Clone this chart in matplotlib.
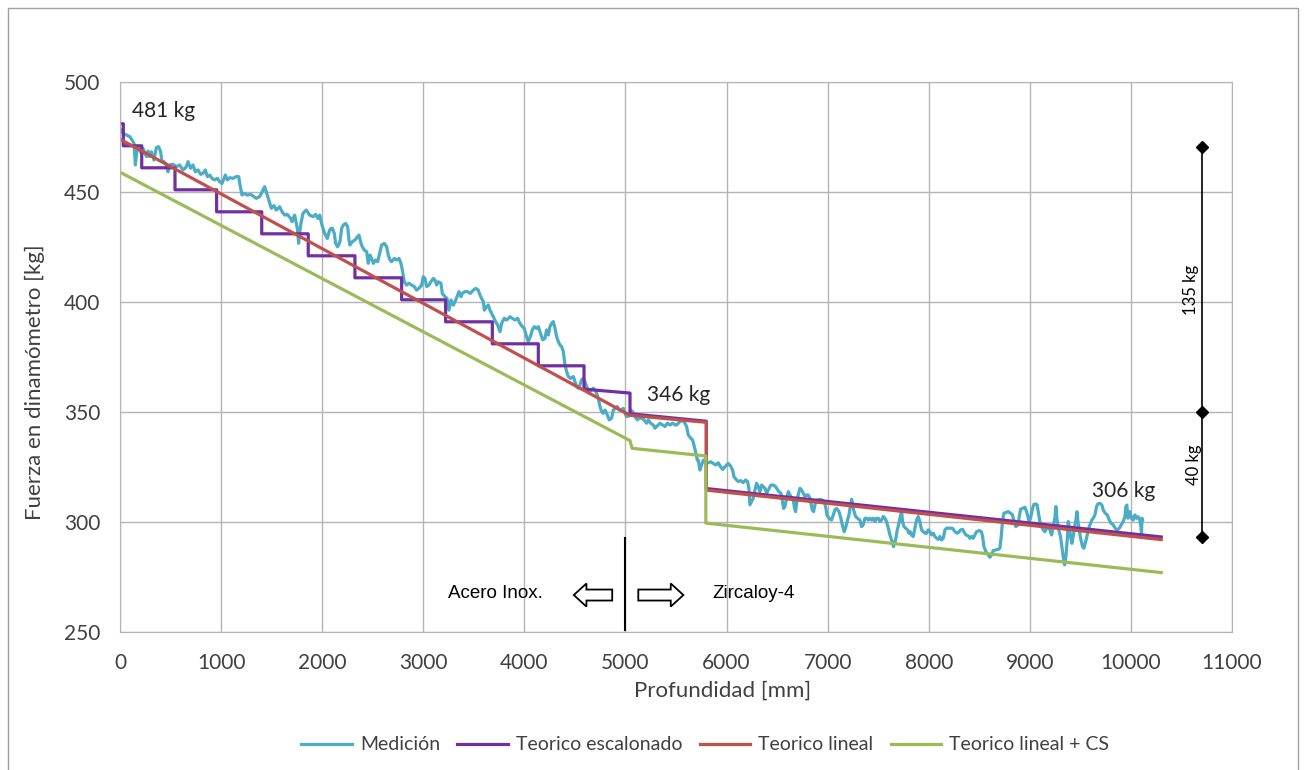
import numpy as np
import matplotlib
matplotlib.use('Agg')
import matplotlib.pyplot as plt
from matplotlib.patches import FancyArrow, Rectangle

plt.rcParams['font.family'] = ['Lato', 'DejaVu Sans']

# medición del dinamómetro: profundidad [mm] / fuerza [kg]
med_x = [0, 30, 63, 96, 119, 139, 152, 165, 185, 211, 228, 244, 264, 277, 293, 310, 336, 359, 382, 402,
         415, 435, 458, 475, 491, 524, 557, 590, 623, 656, 673, 699, 722, 745, 772, 798, 821, 844, 864, 887,
         910, 936, 963, 986, 1009, 1029, 1042, 1062, 1085, 1118, 1151, 1174, 1187, 1207, 1226, 1259, 1292, 1325, 1348, 1381,
         1414, 1431, 1451, 1470, 1497, 1523, 1546, 1579, 1602, 1629, 1655, 1688, 1701, 1727, 1754, 1767, 1787, 1810, 1843, 1876,
         1909, 1935, 1958, 1975, 1998, 2024, 2051, 2074, 2090, 2100, 2120, 2133, 2153, 2176, 2193, 2209, 2232, 2252, 2265, 2275,
         2298, 2324, 2351, 2364, 2384, 2397, 2417, 2440, 2456, 2473, 2489, 2506, 2529, 2549, 2572, 2588, 2615, 2638, 2654, 2671,
         2687, 2713, 2737, 2760, 2779, 2793, 2812, 2835, 2859, 2885, 2911, 2934, 2957, 2984, 3000, 3017, 3033, 3056, 3076, 3099,
         3116, 3132, 3149, 3175, 3188, 3215, 3234, 3254, 3274, 3297, 3314, 3333, 3353, 3373, 3386, 3412, 3439, 3465, 3495, 3518,
         3544, 3561, 3577, 3594, 3604, 3627, 3643, 3660, 3693, 3716, 3736, 3759, 3775, 3801, 3825, 3858, 3881, 3907, 3933, 3956,
         3980, 3999, 4022, 4039, 4065, 4078, 4098, 4121, 4138, 4181, 4204, 4220, 4237, 4253, 4270, 4286, 4303, 4319, 4336, 4352,
         4369, 4385, 4402, 4418, 4435, 4458, 4484, 4500, 4517, 4533, 4550, 4566, 4583, 4599, 4616, 4632, 4649, 4682, 4698, 4715,
         4731, 4748, 4764, 4781, 4797, 4814, 4840, 4863, 4880, 4899, 4919, 4939, 4962, 4978, 4995, 5011, 5038, 5051, 5071, 5094,
         5117, 5137, 5160, 5183, 5209, 5226, 5249, 5275, 5292, 5308, 5325, 5341, 5368, 5391, 5414, 5440, 5466, 5490, 5506, 5539,
         5565, 5588, 5605, 5621, 5645, 5664, 5681, 5697, 5710, 5720, 5737, 5753, 5770, 5796, 5819, 5842, 5869, 5895, 5918, 5941,
         5961, 5984, 6001, 6017, 6040, 6060, 6073, 6099, 6116, 6142, 6165, 6189, 6208, 6221, 6231, 6248, 6264, 6281, 6297, 6314,
         6330, 6347, 6363, 6380, 6396, 6413, 6439, 6462, 6485, 6505, 6518, 6538, 6551, 6564, 6578, 6594, 6611, 6627, 6644, 6660,
         6670, 6683, 6696, 6709, 6726, 6742, 6759, 6775, 6792, 6808, 6825, 6835, 6848, 6861, 6874, 6891, 6907, 6924, 6947, 6967,
         6980, 6993, 7013, 7039, 7056, 7072, 7089, 7112, 7131, 7145, 7164, 7181, 7197, 7211, 7224, 7237, 7247, 7257, 7276, 7296,
         7319, 7336, 7352, 7369, 7385, 7402, 7418, 7435, 7451, 7468, 7484, 7501, 7517, 7534, 7550, 7567, 7583, 7600, 7616, 7633,
         7652, 7672, 7689, 7705, 7722, 7732, 7741, 7755, 7771, 7791, 7804, 7817, 7830, 7847, 7863, 7880, 7896, 7913, 7929, 7946,
         7962, 7979, 7995, 8012, 8028, 8045, 8061, 8078, 8094, 8111, 8127, 8144, 8160, 8177, 8210, 8236, 8259, 8282, 8302, 8315,
         8335, 8348, 8368, 8391, 8407, 8424, 8440, 8457, 8473, 8500, 8520, 8533, 8546, 8566, 8589, 8605, 8622, 8638, 8665, 8688,
         8704, 8717, 8731, 8744, 8763, 8787, 8810, 8829, 8843, 8862, 8885, 8895, 8909, 8928, 8951, 8968, 8981, 8994, 9007, 9027,
         9040, 9060, 9073, 9083, 9100, 9116, 9133, 9149, 9166, 9182, 9199, 9215, 9232, 9248, 9258, 9268, 9278, 9291, 9304, 9317,
         9330, 9344, 9357, 9370, 9380, 9390, 9403, 9416, 9429, 9443, 9456, 9466, 9476, 9489, 9502, 9522, 9535, 9548, 9561, 9575,
         9588, 9601, 9614, 9627, 9644, 9660, 9673, 9693, 9713, 9726, 9746, 9766, 9786, 9805, 9825, 9845, 9865, 9884, 9904, 9924,
         9941, 9950, 9960, 9970, 9980, 9990, 10006, 10023, 10039, 10056, 10072, 10089, 10099, 10105, 10109, 10115]
med_y = [478.9, 476.7, 475.9, 475.2, 473.6, 472.1, 462.3, 468.3, 469.8, 467.6, 469.8, 467.6, 466.1, 468.6, 466.1, 468.3, 464.5, 470.2, 470.6, 468.3,
         464.1, 463.8, 462.6, 459.2, 462.3, 462.6, 461.5, 462.3, 460.0, 461.5, 463.8, 460.8, 462.3, 459.2, 460.0, 458.0, 458.5, 460.0, 457.0, 457.7,
         456.2, 455.5, 456.2, 454.7, 453.9, 456.2, 457.7, 455.5, 456.5, 456.2, 457.0, 457.0, 453.2, 448.6, 449.4, 448.6, 448.9, 447.9, 447.1, 447.9,
         450.9, 452.4, 449.4, 446.4, 442.6, 443.8, 441.8, 443.3, 441.1, 439.5, 439.8, 438.0, 436.5, 439.5, 433.5, 426.7, 435.0, 440.3, 441.8, 439.5,
         438.8, 439.8, 438.0, 439.5, 435.0, 431.2, 428.9, 432.7, 433.5, 433.5, 431.2, 426.6, 425.1, 427.4, 433.5, 435.0, 435.7, 434.2, 428.2, 425.9,
         427.4, 428.2, 429.7, 430.4, 426.6, 425.1, 423.6, 422.9, 417.6, 421.3, 419.8, 417.6, 419.1, 418.3, 422.9, 425.9, 426.6, 425.1, 421.3, 419.1,
         418.3, 419.8, 419.1, 419.8, 417.6, 414.5, 409.2, 407.7, 408.5, 407.7, 407.0, 405.4, 406.2, 407.7, 411.5, 410.7, 407.0, 407.7, 409.2, 410.7,
         410.0, 407.7, 409.2, 408.5, 403.9, 402.4, 401.7, 396.3, 400.9, 398.6, 400.1, 402.4, 404.7, 402.4, 403.9, 404.7, 404.7, 403.9, 405.4, 406.2,
         405.4, 403.2, 401.6, 400.1, 396.3, 397.9, 398.6, 396.3, 393.3, 391.0, 389.5, 386.5, 390.3, 392.6, 391.8, 393.3, 392.6, 391.8, 392.6, 390.3,
         388.8, 388.0, 384.2, 381.9, 385.0, 387.3, 388.8, 388.0, 388.8, 382.8, 383.5, 387.3, 385.0, 388.8, 390.3, 391.1, 388.1, 384.3, 382.0, 380.5,
         379.7, 377.5, 371.4, 368.4, 366.1, 365.3, 366.1, 363.8, 361.5, 360.8, 362.3, 364.6, 365.3, 363.8, 361.5, 360.0, 359.3, 360.8, 360.0, 358.5,
         356.2, 352.5, 350.2, 349.4, 350.9, 349.4, 346.4, 347.2, 350.9, 351.7, 352.5, 350.9, 350.9, 351.7, 349.4, 347.9, 348.2, 350.9, 350.2, 347.9,
         346.4, 347.2, 347.2, 346.4, 344.9, 346.4, 344.9, 344.1, 342.6, 343.4, 344.1, 344.9, 344.1, 343.4, 344.9, 344.1, 344.9, 344.1, 344.1, 345.6,
         346.4, 344.9, 343.4, 339.6, 338.1, 337.3, 334.3, 331.2, 328.2, 328.1, 323.6, 325.9, 328.1, 326.6, 326.9, 327.4, 326.6, 325.9, 326.9, 325.1,
         323.9, 325.1, 325.9, 326.6, 325.4, 323.6, 320.6, 319.1, 318.4, 318.8, 317.9, 319.1, 318.4, 315.3, 307.8, 309.3, 310.8, 314.6, 317.6, 316.1,
         313.8, 316.8, 316.1, 315.3, 313.1, 314.6, 316.8, 316.8, 316.1, 314.6, 313.8, 313.1, 310.0, 306.2, 307.0, 310.8, 313.8, 312.3, 310.8, 310.0,
         307.0, 304.7, 309.3, 312.3, 315.3, 314.6, 313.1, 311.5, 312.3, 312.3, 310.8, 308.5, 305.5, 304.7, 307.8, 310.0, 310.0, 310.3, 310.0, 309.3,
         307.0, 303.2, 301.7, 300.9, 303.2, 305.5, 306.2, 304.7, 301.7, 298.7, 295.6, 297.9, 300.9, 303.2, 307.0, 310.3, 308.5, 305.5, 302.5, 301.7,
         300.9, 297.9, 298.7, 301.7, 301.7, 300.9, 301.7, 300.9, 301.7, 300.2, 301.7, 301.7, 300.2, 300.9, 302.5, 301.7, 300.2, 297.2, 294.1, 291.8,
         288.8, 291.8, 296.4, 299.4, 303.2, 304.7, 300.2, 297.9, 297.2, 296.4, 294.9, 295.6, 294.1, 293.4, 297.2, 300.9, 302.5, 300.2, 296.4, 295.6,
         294.9, 294.9, 296.4, 295.6, 294.1, 294.9, 293.4, 292.6, 292.1, 293.4, 291.8, 292.6, 296.4, 297.2, 297.2, 297.1, 295.6, 294.9, 295.6, 296.4,
         296.7, 295.6, 294.1, 293.7, 292.6, 293.4, 292.6, 294.1, 295.6, 296.1, 295.6, 293.4, 288.8, 286.5, 285.0, 284.0, 285.0, 287.0, 287.3, 287.6,
         288.1, 293.4, 300.9, 304.0, 304.3, 304.7, 304.0, 303.2, 300.2, 297.9, 298.7, 302.4, 305.8, 306.2, 306.7, 304.7, 302.4, 300.2, 301.7, 306.2,
         308.0, 308.2, 307.7, 304.7, 300.2, 297.9, 296.4, 295.6, 297.1, 297.9, 296.4, 294.1, 297.9, 301.7, 307.0, 301.7, 297.9, 295.6, 293.4, 288.8,
         284.3, 280.5, 284.3, 291.8, 300.2, 297.9, 293.4, 290.3, 293.4, 297.9, 300.9, 304.7, 300.2, 296.4, 292.6, 288.8, 288.1, 290.3, 292.6, 295.6,
         297.9, 299.4, 300.9, 301.7, 303.2, 307.0, 308.2, 308.5, 307.7, 305.5, 304.0, 303.2, 300.9, 299.4, 298.7, 297.1, 296.4, 297.1, 298.7, 300.2,
         302.4, 307.0, 307.7, 301.7, 304.0, 304.7, 301.7, 300.9, 303.2, 301.7, 302.4, 300.9, 297.9, 294.1, 301.7, 300.9]

# teórico escalonado: inicio de cada escalón y su nivel
esc_bordes = [0, 33, 215, 544, 956, 1402, 1862, 2324, 2786, 3221, 3683, 4138, 4590]
esc_niveles = [481, 471, 461, 451, 441, 431, 421, 411, 401, 391, 381, 371, 360.4]
esc_cola_x = [5045, 5045, 5800, 5800, 10300]
esc_cola_y = [358.6, 349.2, 345.8, 315.2, 293.2]

# teórico lineal
lin_x = [0, 5045, 5800, 5800, 10300]
lin_y = [474, 348.5, 345.3, 314.5, 292]

# teórico lineal + CS
cs_x = [0, 5045, 5065, 5795, 5795, 10300]
cs_y = [459, 337, 333.5, 330, 299.5, 277]

esc_x, esc_y = [], []
for i in range(len(esc_bordes) - 1):
    esc_x += [esc_bordes[i], esc_bordes[i + 1]]
    esc_y += [esc_niveles[i], esc_niveles[i]]
esc_x += [esc_bordes[-1]] + esc_cola_x
esc_y += [esc_niveles[-1]] + esc_cola_y

fig = plt.figure(figsize=(13.06, 7.7), dpi=100)
ax = fig.add_axes([120 / 1306, 1 - 632 / 770, 1112 / 1306, 550 / 770])

ax.plot(med_x, med_y, color='#4BACC6', lw=2.3, label='Medición')
ax.plot(esc_x, esc_y, color='#7030A0', lw=2.3, label='Teorico escalonado')
ax.plot(lin_x, lin_y, color='#C0504D', lw=2.3, label='Teorico lineal')
ax.plot(cs_x, cs_y, color='#9BBB59', lw=2.3, label='Teorico lineal + CS')

ax.set_xlim(0, 11000)
ax.set_ylim(250, 500)
ax.set_xticks(range(0, 11001, 1000))
ax.set_yticks(range(250, 501, 50))
ax.grid(True, color='#b4b4b4', lw=1.0)
ax.set_axisbelow(True)
for s in ax.spines.values():
    s.set_color('#b4b4b4')
ax.tick_params(length=0, labelsize=15, colors='#404040')
ax.tick_params(axis='x', pad=15)
ax.tick_params(axis='y', pad=14)
ax.set_xlabel('Profundidad [mm]', fontsize=16, color='#404040', labelpad=6)
ax.set_ylabel('Fuerza en dinamómetro [kg]', fontsize=16, color='#404040', labelpad=14)
ax.xaxis.label.set_x(0.542)
ax.yaxis.label.set_y(0.454)

ax.text(116, 486.6, '481 kg', fontsize=15, color='#262626', va='center')
ax.text(5210, 357.5, '346 kg', fontsize=15, color='#262626', va='center')
ax.text(9611, 314.3, '306 kg', fontsize=15, color='#262626', va='center')

# cota vertical de la derecha
ax.plot([10705, 10705, 10705], [470.5, 349.8, 293], color='black', lw=1.2,
        marker='D', markersize=6, clip_on=False)
ax.text(10593, 405.5, '135 kg', rotation=90, fontsize=12, ha='center', va='center')
ax.text(10623, 326, '40 kg', rotation=90, fontsize=12, ha='center', va='center')

# separación de materiales
ax.plot([4995, 4995], [251, 292.7], color='black', lw=1.5)
ax.add_patch(FancyArrow(4869, 266.8, -380, 0, width=5, head_width=10.5, head_length=125,
                        length_includes_head=True, facecolor='white', edgecolor='black', lw=1.3))
ax.add_patch(FancyArrow(5127, 266.8, 446, 0, width=5, head_width=10.5, head_length=125,
                        length_includes_head=True, facecolor='white', edgecolor='black', lw=1.3))
ax.text(3709, 267.5, 'Acero Inox.', family='Liberation Sans', fontsize=13.5, ha='center', va='center')
ax.text(6271, 267.5, 'Zircaloy-4', family='Liberation Sans', fontsize=13.5, ha='center', va='center')

fig.legend(loc='center', bbox_to_anchor=(0.54, 1 - 745 / 770), ncol=4, frameon=False,
           fontsize=14, handlelength=2.6, handletextpad=0.4, columnspacing=0.9,
           labelcolor='#404040')

fig.patches.append(Rectangle((8 / 1306, -0.1), 1290 / 1306, 0.1 + 1 - 8 / 770,
                             transform=fig.transFigure, fill=False, edgecolor='#a0a0a0', lw=1))

fig.savefig('out.png', dpi=100)
